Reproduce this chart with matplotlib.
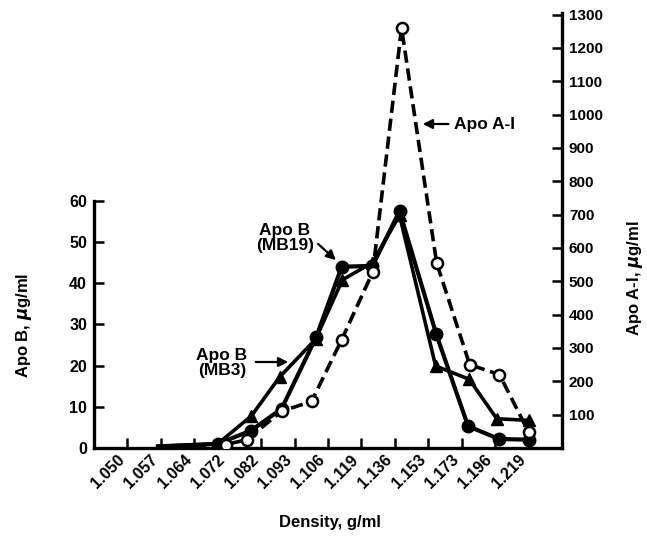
import matplotlib
matplotlib.use("Agg")
import matplotlib.pyplot as plt

# ---- data ----
density_labels = ["1.050", "1.057", "1.064", "1.072", "1.082", "1.093", "1.106",
                  "1.119", "1.136", "1.153", "1.173", "1.196", "1.219"]

# fraction positions along the density axis (in tick-index units)
mb19_x = [0.91, 2.70, 3.69, 4.61, 5.65, 6.41, 7.33, 8.14, 9.24, 10.19, 11.11, 12.0]
mb19_y = [0.4, 1.0, 4.2, 9.5, 27.0, 44.0, 44.2, 57.5, 27.6, 5.3, 2.2, 2.0]

mb3_x = [0.91, 2.70, 3.71, 4.55, 5.63, 6.43, 7.33, 8.14, 9.22, 10.22, 11.05, 12.0]
mb3_y = [0.4, 1.0, 7.8, 17.2, 26.4, 40.8, 45.0, 56.5, 19.9, 16.7, 7.1, 6.7]

apoa_x = [0.91, 2.94, 3.57, 4.61, 5.51, 6.41, 7.34, 8.20, 9.25, 10.24, 11.13, 12.0]
apoa_y = [0, 10, 25, 110, 140, 325, 528, 1260, 555, 250, 220, 48]

left_ticks = [0, 10, 20, 30, 40, 50, 60]
right_ticks = [100, 200, 300, 400, 500, 600, 700, 800, 900, 1000, 1100, 1200, 1300]

plt.rcParams['font.family'] = ['Liberation Sans', 'DejaVu Sans']
plt.rcParams['font.weight'] = 'bold'

fig = plt.figure(figsize=(6.47, 5.40), dpi=100)
ax = fig.add_axes([0.1453, 0.1704, 0.7233, 0.8056])
ax2 = ax.twinx()

# scales
ax.set_xlim(-1.0, 13.0)
ax.set_ylim(0, 105.6)
ax2.set_ylim(0, 1305)

lw_spine = 2.4
for a in (ax, ax2):
    a.spines['top'].set_visible(False)
    for s in a.spines.values():
        s.set_linewidth(lw_spine)
ax.spines['right'].set_visible(False)
ax2.spines['left'].set_visible(False)
ax2.spines['bottom'].set_visible(False)
ax.spines['left'].set_bounds(0, 60)

ax.set_yticks(left_ticks)
ax.set_yticklabels([str(t) for t in left_ticks], fontsize=11.5, fontweight='bold')
ax2.set_yticks(right_ticks)
ax2.set_yticklabels([str(t) for t in right_ticks], fontsize=11, fontweight='bold')
ax.set_xticks(range(len(density_labels)))
ax.set_xticklabels(density_labels, rotation=45, ha='right', fontsize=11.5, fontweight='bold')

ax.tick_params(axis='both', direction='in', length=7, width=1.8, pad=5)
ax2.tick_params(axis='y', direction='in', length=7, width=1.8, pad=5)
ax.tick_params(axis='x', pad=3)

# series
ax.plot(mb3_x, mb3_y, color='black', lw=2.6, marker='^', ms=8,
        markevery=list(range(1, len(mb3_x))), zorder=3)
ax.plot(mb19_x, mb19_y, color='black', lw=3.0, marker='o', ms=9,
        markevery=list(range(1, len(mb19_x))), zorder=4)
ax2.plot(apoa_x, apoa_y, color='black', lw=2.6, linestyle=(0, (3.4, 1.6)),
         marker='o', ms=8, mfc='white', mec='black', mew=1.8,
         markevery=list(range(1, len(apoa_x))), zorder=5)

# axis labels
fig.text(330 / 647, 1 - 522 / 540, "Density, g/ml", ha='center', va='center',
         fontsize=12, fontweight='bold')
fig.text(24 / 647, 1 - 325 / 540, "Apo B, $\\mu$g/ml", rotation=90,
         ha='center', va='center', fontsize=12, fontweight='bold')
fig.text(635 / 647, 1 - 278 / 540, "Apo A-I, $\\mu$g/ml", rotation=90,
         ha='center', va='center', fontsize=12, fontweight='bold')

# annotations (figure-pixel placement)
def px(x, y):
    return (x / 647, 1 - y / 540)

arrowprops = dict(arrowstyle='-|>', color='black', lw=1.6, mutation_scale=14)
ax.annotate("Apo A-I", xy=px(420, 124), xycoords='figure fraction',
            xytext=px(454, 124), textcoords='figure fraction',
            ha='left', va='center', fontsize=12.5, fontweight='bold',
            arrowprops=arrowprops)
ax.annotate("", xy=px(338, 262), xycoords='figure fraction',
            xytext=px(316, 242), textcoords='figure fraction',
            arrowprops=arrowprops)
fig.text(*px(285, 238), "Apo B\n(MB19)", ha='center', va='center',
         fontsize=12.5, fontweight='bold', linespacing=1.05)
ax.annotate("", xy=px(291, 362), xycoords='figure fraction',
            xytext=px(253, 362), textcoords='figure fraction',
            arrowprops=arrowprops)
fig.text(*px(222, 363), "Apo B\n(MB3)", ha='center', va='center',
         fontsize=12.5, fontweight='bold', linespacing=1.05)

fig.savefig("out.png", dpi=100)
